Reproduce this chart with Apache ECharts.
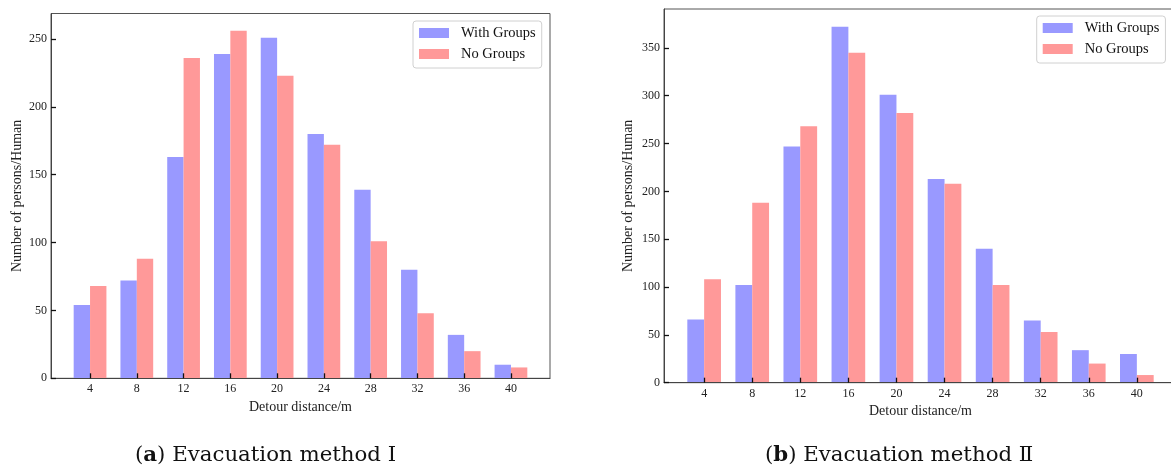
<!DOCTYPE html>
<html>
<head>
<meta charset="utf-8">
<script src="https://cdn.jsdelivr.net/npm/echarts@6/dist/echarts.min.js"></script>
<style>
html,body{margin:0;padding:0;background:#fff;}
#chart{width:1171px;height:469px;}
</style>
</head>
<body>
<div id="chart"></div>
<script>
// Data
const distances = [4, 8, 12, 16, 20, 24, 28, 32, 36, 40];
const withGroupsA = [54, 72, 163, 239, 251, 180, 139, 80, 32, 10];
const noGroupsA   = [68, 88, 236, 256, 223, 172, 101, 48, 20, 8];
const withGroupsB = [66, 102, 247, 372, 301, 213, 140, 65, 34, 30];
const noGroupsB   = [108, 188, 268, 345, 282, 208, 102, 53, 20, 8];
const yTicksA = [0, 50, 100, 150, 200, 250];
const yTicksB = [0, 50, 100, 150, 200, 250, 300, 350];
const seriesNames = ['With Groups', 'No Groups'];
const captionA = 'Evacuation method Ⅰ';
const captionB = 'Evacuation method Ⅱ';

const FONT = 'Liberation Serif';
const BLUE = '#9999ff';
const RED = '#ff9999';

const pairs = (vals) => distances.map((d, i) => [d, vals[i]]);

function xAxis(gridIndex, nameGap) {
  return {
    type: 'value', gridIndex: gridIndex, min: 0.66, max: 43.34, z: 5,
    name: 'Detour distance/m', nameLocation: 'middle', nameGap: nameGap,
    nameTextStyle: { fontFamily: FONT, fontSize: 14, color: '#222' },
    axisLine: { show: true, lineStyle: { color: '#444', width: 1 } },
    axisTick: { show: true, inside: true, length: 5, customValues: distances, lineStyle: { color: '#111', width: 1.3 } },
    axisLabel: { show: true, customValues: distances, margin: 5, fontFamily: FONT, fontSize: 12, color: '#222' },
    splitLine: { show: false }
  };
}
function yAxis(gridIndex, max, ticks, nameGap) {
  return {
    type: 'value', gridIndex: gridIndex, min: 0, max: max, z: 5,
    name: 'Number of persons/Human', nameLocation: 'middle', nameGap: nameGap, nameRotate: 90,
    nameTextStyle: { fontFamily: FONT, fontSize: 14, color: '#222' },
    axisLine: { show: true, lineStyle: { color: '#444', width: 1 } },
    axisTick: { show: true, inside: true, length: 5, customValues: ticks, lineStyle: { color: '#111', width: 1.3 } },
    axisLabel: { show: true, customValues: ticks, margin: 4, fontFamily: FONT, fontSize: 12, color: '#222' },
    splitLine: { show: false }
  };
}
function legend(left, top) {
  return {
    orient: 'vertical', left: left, top: top,
    data: seriesNames, icon: 'rect', itemWidth: 30, itemHeight: 10, itemGap: 5,
    padding: [4, 6, 6, 6], selectedMode: false,
    backgroundColor: '#fff', borderColor: '#d0d0d0', borderWidth: 1, borderRadius: 3,
    textStyle: { fontFamily: FONT, fontSize: 14.5, color: '#111', lineHeight: 16, padding: [0, 0, 0, 7] }
  };
}
function bar(name, xi, vals, color) {
  return {
    type: 'bar', name: name, xAxisIndex: xi, yAxisIndex: xi,
    data: pairs(vals), barWidth: '35%', barGap: '0%',
    itemStyle: { color: color }, emphasis: { disabled: true }, animation: false
  };
}
function caption(letter, text, left) {
  return {
    text: '({b|' + letter + '}) ' + text, left: left, top: 440,
    textStyle: { fontFamily: 'DejaVu Serif', fontSize: 21.3, fontWeight: 'normal', color: '#111',
      rich: { b: { fontFamily: 'DejaVu Serif', fontSize: 21.3, fontWeight: 'bold', color: '#111' } } }
  };
}

const chart = echarts.init(document.getElementById('chart'), null, { renderer: 'canvas' });
chart.setOption({
  animation: false,
  backgroundColor: '#fff',
  textStyle: { fontFamily: FONT },
  title: [caption('a', captionA, 130), caption('b', captionB, 760)],
  grid: [
    { left: 51, top: 13.5, width: 499, height: 364.8, outerBoundsMode: 'none', containLabel: false,
      show: true, borderColor: '#555', borderWidth: 1, backgroundColor: 'transparent' },
    { left: 664, top: 9, width: 513, height: 373.7, outerBoundsMode: 'none', containLabel: false,
      show: true, borderColor: '#555', borderWidth: 1, backgroundColor: 'transparent' }
  ],
  legend: [legend(413, 21), legend(1036.7, 16)],
  xAxis: [xAxis(0, 19), xAxis(1, 18.5)],
  yAxis: [yAxis(0, 268.8, yTicksA, 27), yAxis(1, 390.6, yTicksB, 29)],
  series: [
    bar(seriesNames[0], 0, withGroupsA, BLUE),
    bar(seriesNames[1], 0, noGroupsA, RED),
    bar(seriesNames[0], 1, withGroupsB, BLUE),
    bar(seriesNames[1], 1, noGroupsB, RED)
  ]
});
</script>
</body>
</html>
